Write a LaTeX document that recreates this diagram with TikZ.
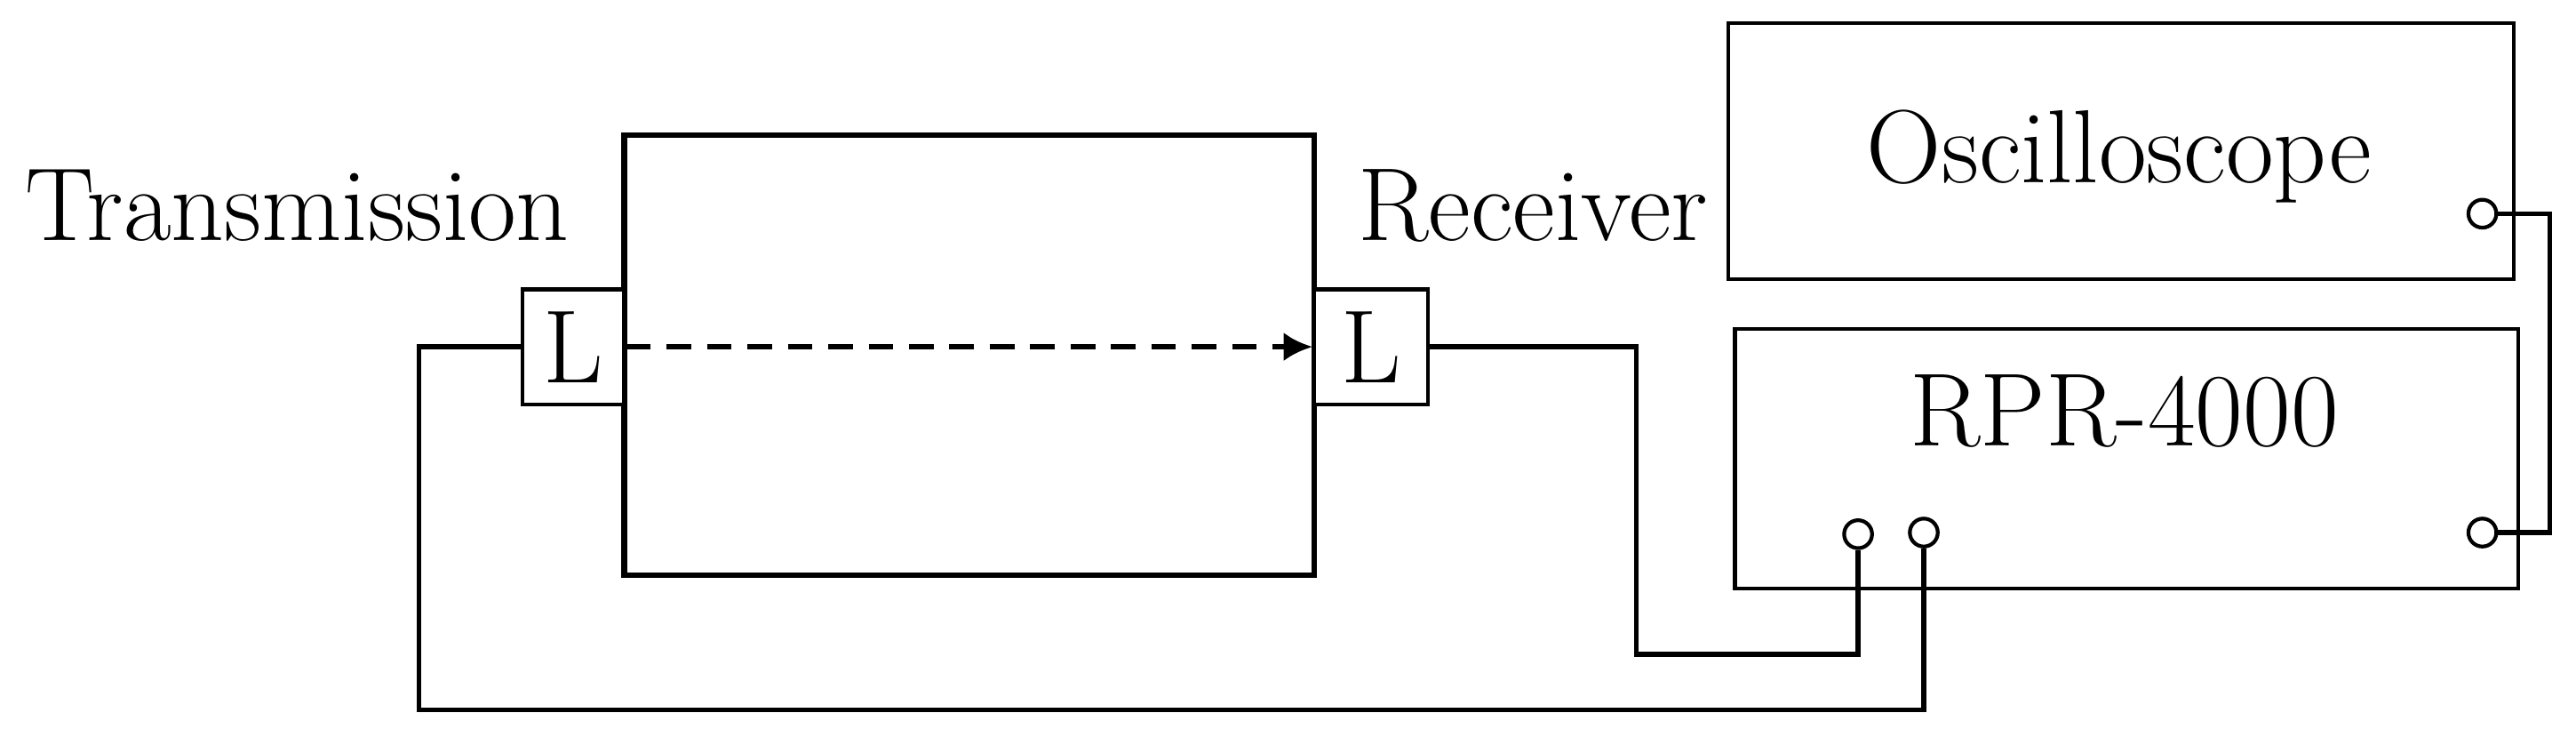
\documentclass[tikz,border=0pt]{standalone}
\usetikzlibrary{arrows.meta}
\begin{document}
\begin{tikzpicture}[x=0.02cm,y=-0.02cm,line width=1.7pt,
  lbl/.style={font=\fontsize{36}{42}\selectfont},
  box/.style={draw,line width=1.3pt},
  port/.style={draw,circle,line width=1.3pt,fill=white,inner sep=0pt,minimum size=0.34cm}]
\useasboundingbox (0,0) rectangle (1568,443);
\draw[line width=1.9pt] (380,82) rectangle (800,350);
\node[box,minimum width=1.24cm,minimum height=1.4cm,lbl,inner sep=0pt,fill=white] (LT) at (349,211) {L};
\node[box,minimum width=1.38cm,minimum height=1.4cm,lbl,inner sep=0pt,fill=white] (LR) at (834.5,211) {L};
\draw[line width=1.9pt,dash pattern=on 8.5pt off 5.5pt,-{Latex[length=10pt,width=10pt]}] (LT.east) -- (LR.west);
\node[box,minimum width=9.56cm,minimum height=3.12cm] (osc) at (1291,92) {};
\node[lbl] at (1290,95) {Oscilloscope};
\node[box,minimum width=9.54cm,minimum height=3.16cm] (rpr) at (1294.5,279) {};
\node[lbl] at (1293,250) {RPR-4000};
\node[lbl] (tx) at (181,125) {Transmission};
\node[lbl] (rx) at (933,125) {Receiver};
\node[port] (po) at (1511,130) {};
\node[port] (pr) at (1511,324) {};
\node[port] (p1) at (1131,325) {};
\node[port] (p2) at (1171,324) {};
\draw (po.east) -- (1552,130) -- (1552,324) -- (pr.east);
\draw (LR.east) -- (996,211) -- (996,398) -- (1131,398) -- (p1.south);
\draw (LT.west) -- (255,211) -- (255,432) -- (1171,432) -- (p2.south);
\end{tikzpicture}
\end{document}
